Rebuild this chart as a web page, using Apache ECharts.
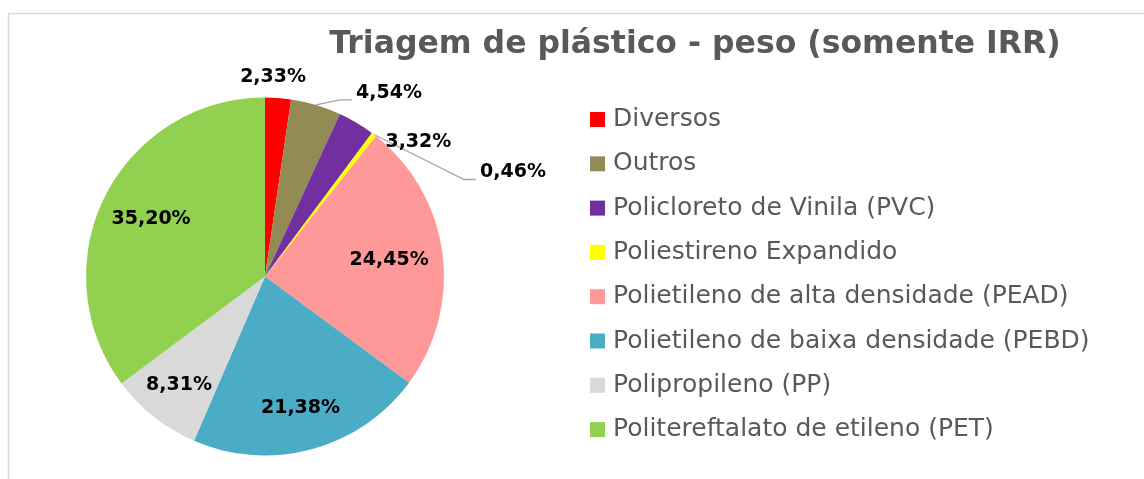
<!DOCTYPE html>
<html>
<head>
<meta charset="utf-8">
<script src="https://cdn.jsdelivr.net/npm/echarts@6/dist/echarts.min.js"></script>
<style>
  html, body { margin: 0; padding: 0; background: #ffffff; }
  #chart { width: 1144px; height: 479px; }
</style>
</head>
<body>
<div id="chart"></div>
<script>
// Plastic sorting by weight (IRR only), shares in percent
const categories = [
  'Diversos',
  'Outros',
  'Policloreto de Vinila (PVC)',
  'Poliestireno Expandido',
  'Polietileno de alta densidade (PEAD)',
  'Polietileno de baixa densidade (PEBD)',
  'Polipropileno (PP)',
  'Politereftalato de etileno (PET)'
];
const shares = [2.33, 4.54, 3.32, 0.46, 24.45, 21.38, 8.31, 35.20];
const colors = ['#FF0000', '#948A54', '#7030A0', '#FFFF00', '#FF9999', '#4BACC6', '#D9D9D9', '#92D050'];
const titleText = 'Triagem de plástico - peso (somente IRR)';

// pie geometry
const CX = 265, CY = 276.5, R = 179;
// large slices: label sits inside, at this fraction of the radius
const insideRatio = [null, null, null, null, 0.70, 0.76, 0.775, 0.712];
// small slices: label anchor offset from the slice's outer edge midpoint
const outerOffset = [[-5, -21], [40, -12], [29, 19], [106, 38]];
const showLeader = [false, true, false, true];

const fmt = v => v.toFixed(2).replace('.', ',') + '%';

const seriesData = categories.map((name, i) => {
  const item = { name, value: shares[i], itemStyle: { color: colors[i] } };
  if (insideRatio[i] != null) {
    item.label = { position: 'inside' };
    item.labelLine = { show: false };
  } else {
    item.label = { position: 'outside' };
    item.labelLine = { show: true, lineStyle: { opacity: showLeader[i] ? 1 : 0 } };
  }
  return item;
});

const chart = echarts.init(document.getElementById('chart'), null, { renderer: 'canvas' });
chart.setOption({
  backgroundColor: '#ffffff',
  animation: false,
  graphic: [{
    type: 'rect',
    silent: true,
    shape: { x: 8.5, y: 13.5, width: 1400, height: 700 },
    style: { fill: 'none', stroke: '#D9D9D9', lineWidth: 1.5 }
  }],
  title: {
    text: titleText,
    left: 695,
    textAlign: 'center',
    top: 29,
    padding: 0,
    textStyle: { fontFamily: 'DejaVu Sans', fontWeight: 'bold', fontSize: 31.5, color: '#595959' }
  },
  legend: {
    orient: 'vertical',
    left: 590,
    top: 107,
    padding: 0,
    itemWidth: 15,
    itemHeight: 15,
    itemGap: 19.3,
    icon: 'rect',
    data: categories,
    textStyle: { fontFamily: 'DejaVu Sans', fontSize: 25, lineHeight: 25, color: '#595959', padding: [0, 0, 0, 3] }
  },
  series: [{
    type: 'pie',
    center: [CX, CY],
    radius: R,
    startAngle: 90,
    clockwise: true,
    avoidLabelOverlap: false,
    silent: true,
    itemStyle: { borderWidth: 0 },
    label: {
      show: true,
      color: '#000000',
      fontFamily: 'DejaVu Sans',
      fontWeight: 'bold',
      fontSize: 19,
      formatter: p => fmt(p.value)
    },
    labelLine: { length: 12, length2: 8, lineStyle: { color: '#A6A6A6', width: 1.3 } },
    labelLayout: function (p) {
      const i = p.dataIndex;
      const r = p.labelRect;
      if (insideRatio[i] != null) {
        const mx = r.x + r.width / 2, my = r.y + r.height / 2;
        const dx = mx - CX, dy = my - CY;
        const k = insideRatio[i] * R / Math.hypot(dx, dy);
        return { x: CX + dx * k, y: CY + dy * k };
      }
      const e = p.labelLinePoints[0];
      const x = e[0] + outerOffset[i][0];
      const y = e[1] + outerOffset[i][1];
      const out = { x: x, y: y, labelLinePoints: [e, [x - 16, y + 7], [x - 4, y + 7]] };
      if (i === 0) out.align = 'center';
      return out;
    },
    data: seriesData
  }]
});
</script>
</body>
</html>
